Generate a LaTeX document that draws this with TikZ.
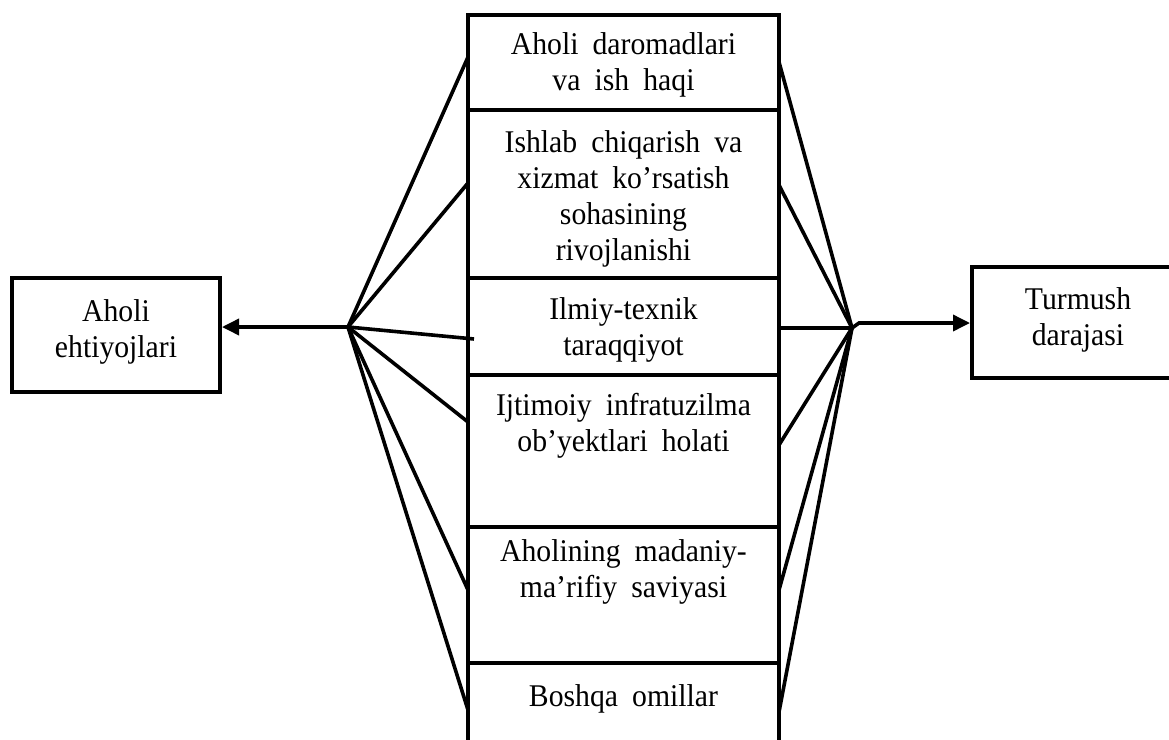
\documentclass[tikz,border=0pt]{standalone}
\usepackage{fontspec}
\setmainfont[WordSpace=1.9,FakeStretch=0.94]{Liberation Serif}
\usetikzlibrary{arrows.meta}
\begin{document}
\begin{tikzpicture}[x=0.5pt,y=-0.5pt,
  box/.style={draw, line width=2pt, inner sep=0pt},
  lbl/.style={font=\fontsize{15.8}{18}\selectfont, align=center, anchor=base, inner sep=0pt},
  conn/.style={line width=1.8pt},
  arr/.style={line width=1.8pt, -{Triangle[length=8.5pt,width=8pt]}}]
\useasboundingbox (0,0) rectangle (1169,740);
\clip (0,0) rectangle (1169,740);
% side boxes
\node[box, minimum width=104pt, minimum height=57pt] (lb) at (116,335) {};
\node[box, minimum width=109pt, minimum height=55.5pt] (rb) at (1081,322.5) {};
% central column
\node[box, minimum width=155.5pt, minimum height=47.5pt] (b1) at (623.5,62.5) {};
\node[box, minimum width=155.5pt, minimum height=84pt] (b2) at (623.5,194) {};
\node[box, minimum width=155.5pt, minimum height=48.5pt] (b3) at (623.5,326.5) {};
\node[box, minimum width=155.5pt, minimum height=76pt] (b4) at (623.5,451) {};
\node[box, minimum width=155.5pt, minimum height=68pt] (b5) at (623.5,595) {};
\node[box, minimum width=155.5pt, minimum height=53.5pt] (b6) at (623.5,716.5) {};
% texts (anchor at the baseline of the last line)
\node[lbl] (tlb) at (116,357) {Aholi\\ehtiyojlari};
\node[lbl] (trb) at (1078,345) {Turmush\\darajasi};
\node[lbl] (t1) at (623.5,90) {Aholi daromadlari\\va ish haqi};
\node[lbl] (t2) at (623.5,260) {Ishlab chiqarish va\\xizmat ko’rsatish\\sohasining\\rivojlanishi};
\node[lbl] (t3) at (623.5,355) {Ilmiy-texnik\\taraqqiyot};
\node[lbl] (t4) at (623.5,451) {Ijtimoiy infratuzilma\\ob’yektlari holati};
\node[lbl] (t5) at (623.5,597) {Aholining madaniy-\\ma’rifiy saviyasi};
\node[lbl] (t6) at (623.5,706) {Boshqa omillar};
% hubs
\coordinate (L) at (348,327);
\coordinate (R) at (852,328);
\coordinate (K) at (859,323);
% left endpoints
\coordinate (l1) at (468,57);
\coordinate (l2) at (468,183);
\coordinate (l3) at (474,339);
\coordinate (l4) at (468,422);
\coordinate (l5) at (468,590);
\coordinate (l6) at (468,710);
% right endpoints
\coordinate (r1) at (779,62);
\coordinate (r2) at (779,185);
\coordinate (r3) at (779,328);
\coordinate (r4) at (779,445);
\coordinate (r5) at (779,590);
\coordinate (r6) at (779,712);
\foreach \p in {l1,l2,l3,l4,l5,l6} \draw[conn] (L) -- (\p);
\foreach \p in {r1,r2,r3,r4,r5,r6} \draw[conn] (\p) -- (R);
\draw[arr] (L) -- (L -| lb.east);
\draw[arr] (R) -- (K) -- (K -| rb.west);
\end{tikzpicture}
\end{document}
